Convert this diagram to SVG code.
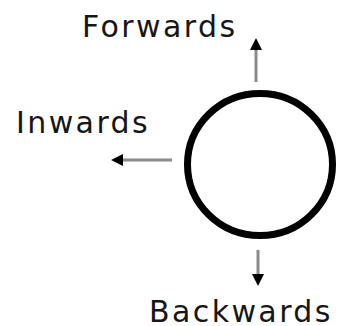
<svg xmlns="http://www.w3.org/2000/svg" width="338" height="326" viewBox="0 0 338 326">
<defs>
<style>
.lbl{font-family:"DejaVu Sans",Verdana,sans-serif;font-size:30px;fill:#161616;letter-spacing:2.4px}
.shaft{stroke:#8a8a8a;stroke-width:3;fill:none}
.head{fill:#000}
</style>
<marker id="ah" viewBox="0 0 12 12" refX="0" refY="6" markerWidth="12" markerHeight="12" markerUnits="userSpaceOnUse" orient="auto">
<path d="M0,0 L12,6 L0,12 Z" class="head"/>
</marker>
</defs>
<rect width="338" height="326" fill="#fff"/>
<g id="connectors">
<line class="shaft" x1="256" y1="82" x2="256" y2="50" marker-end="url(#ah)"/>
<line class="shaft" x1="172" y1="160" x2="123" y2="160" marker-end="url(#ah)"/>
<line class="shaft" x1="258" y1="250" x2="258" y2="274" marker-end="url(#ah)"/>
</g>
<g id="node-circle">
<ellipse cx="260" cy="164.5" rx="72.5" ry="71" fill="#fff" stroke="#000" stroke-width="7"/>
</g>
<g id="label-forwards"><text class="lbl" x="82" y="37">Forwards</text></g>
<g id="label-inwards"><text class="lbl" x="16" y="133">Inwards</text></g>
<g id="label-backwards"><text class="lbl" x="149" y="322">Backwards</text></g>
</svg>
